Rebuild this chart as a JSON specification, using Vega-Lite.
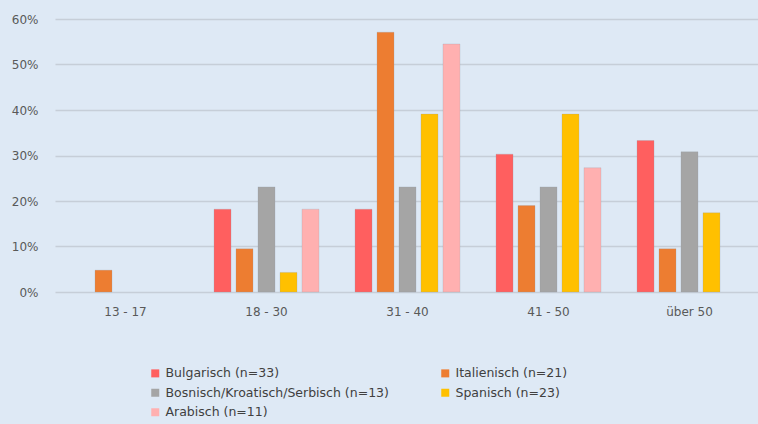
{
  "$schema": "https://vega.github.io/schema/vega-lite/v6.json",
  "width": 705,
  "height": 273,
  "autosize": {"type": "none"},
  "padding": {"left": 55, "top": 19, "right": 0, "bottom": 132},
  "background": "#dee9f5",
  "config": {
    "view": {"stroke": null},
    "font": "DejaVu Sans"
  },
  "data": {
    "values": [
      {"age": "13 - 17", "lang": "Italienisch (n=21)", "share": 0.048},
      {"age": "18 - 30", "lang": "Bulgarisch (n=33)", "share": 0.182},
      {"age": "18 - 30", "lang": "Italienisch (n=21)", "share": 0.095},
      {"age": "18 - 30", "lang": "Bosnisch/Kroatisch/Serbisch (n=13)", "share": 0.231},
      {"age": "18 - 30", "lang": "Spanisch (n=23)", "share": 0.043},
      {"age": "18 - 30", "lang": "Arabisch (n=11)", "share": 0.182},
      {"age": "31 - 40", "lang": "Bulgarisch (n=33)", "share": 0.182},
      {"age": "31 - 40", "lang": "Italienisch (n=21)", "share": 0.571},
      {"age": "31 - 40", "lang": "Bosnisch/Kroatisch/Serbisch (n=13)", "share": 0.231},
      {"age": "31 - 40", "lang": "Spanisch (n=23)", "share": 0.391},
      {"age": "31 - 40", "lang": "Arabisch (n=11)", "share": 0.545},
      {"age": "41 - 50", "lang": "Bulgarisch (n=33)", "share": 0.303},
      {"age": "41 - 50", "lang": "Italienisch (n=21)", "share": 0.19},
      {"age": "41 - 50", "lang": "Bosnisch/Kroatisch/Serbisch (n=13)", "share": 0.231},
      {"age": "41 - 50", "lang": "Spanisch (n=23)", "share": 0.391},
      {"age": "41 - 50", "lang": "Arabisch (n=11)", "share": 0.273},
      {"age": "über 50", "lang": "Bulgarisch (n=33)", "share": 0.333},
      {"age": "über 50", "lang": "Italienisch (n=21)", "share": 0.095},
      {"age": "über 50", "lang": "Bosnisch/Kroatisch/Serbisch (n=13)", "share": 0.308},
      {"age": "über 50", "lang": "Spanisch (n=23)", "share": 0.174}
    ]
  },
  "mark": {"type": "bar", "stroke": "#8f9aa5", "strokeWidth": 0.4, "strokeOpacity": 0.6},
  "encoding": {
    "x": {
      "field": "age", "type": "nominal",
      "scale": {"domain": ["13 - 17", "18 - 30", "31 - 40", "41 - 50", "über 50"], "paddingInner": 0.22, "paddingOuter": 0.11},
      "axis": {
        "title": null, "labelAngle": 0, "domain": false, "ticks": false,
        "labelPadding": 14, "labelFontSize": 12, "labelColor": "#595959"
      }
    },
    "xOffset": {
      "field": "lang", "type": "nominal",
      "scale": {
        "domain": ["Bulgarisch (n=33)", "Italienisch (n=21)", "Bosnisch/Kroatisch/Serbisch (n=13)", "Spanisch (n=23)", "Arabisch (n=11)"],
        "paddingInner": 0.227, "paddingOuter": 0.114
      }
    },
    "y": {
      "field": "share", "type": "quantitative",
      "scale": {"domain": [0, 0.6], "nice": false},
      "axis": {
        "title": null, "format": ".0%", "values": [0, 0.1, 0.2, 0.3, 0.4, 0.5, 0.6],
        "domain": false, "ticks": false, "labelPadding": 17,
        "labelFontSize": 12, "labelColor": "#595959",
        "gridColor": "#c6ced8", "gridWidth": 1.5
      }
    },
    "color": {
      "field": "lang", "type": "nominal",
      "scale": {
        "domain": ["Bulgarisch (n=33)", "Italienisch (n=21)", "Bosnisch/Kroatisch/Serbisch (n=13)", "Spanisch (n=23)", "Arabisch (n=11)"],
        "range": ["#ff5f5f", "#ed7d31", "#a5a5a5", "#ffc000", "#ffb0b0"]
      },
      "legend": {
        "title": null, "orient": "none", "legendX": 94, "legendY": 348,
        "direction": "horizontal", "columns": 2, "columnPadding": 50, "rowPadding": 6.5,
        "symbolType": "square", "symbolSize": 64, "symbolStrokeWidth": 0,
        "labelFontSize": 12.5, "labelColor": "#404040", "labelOffset": 4, "labelLimit": 400
      }
    }
  }
}
